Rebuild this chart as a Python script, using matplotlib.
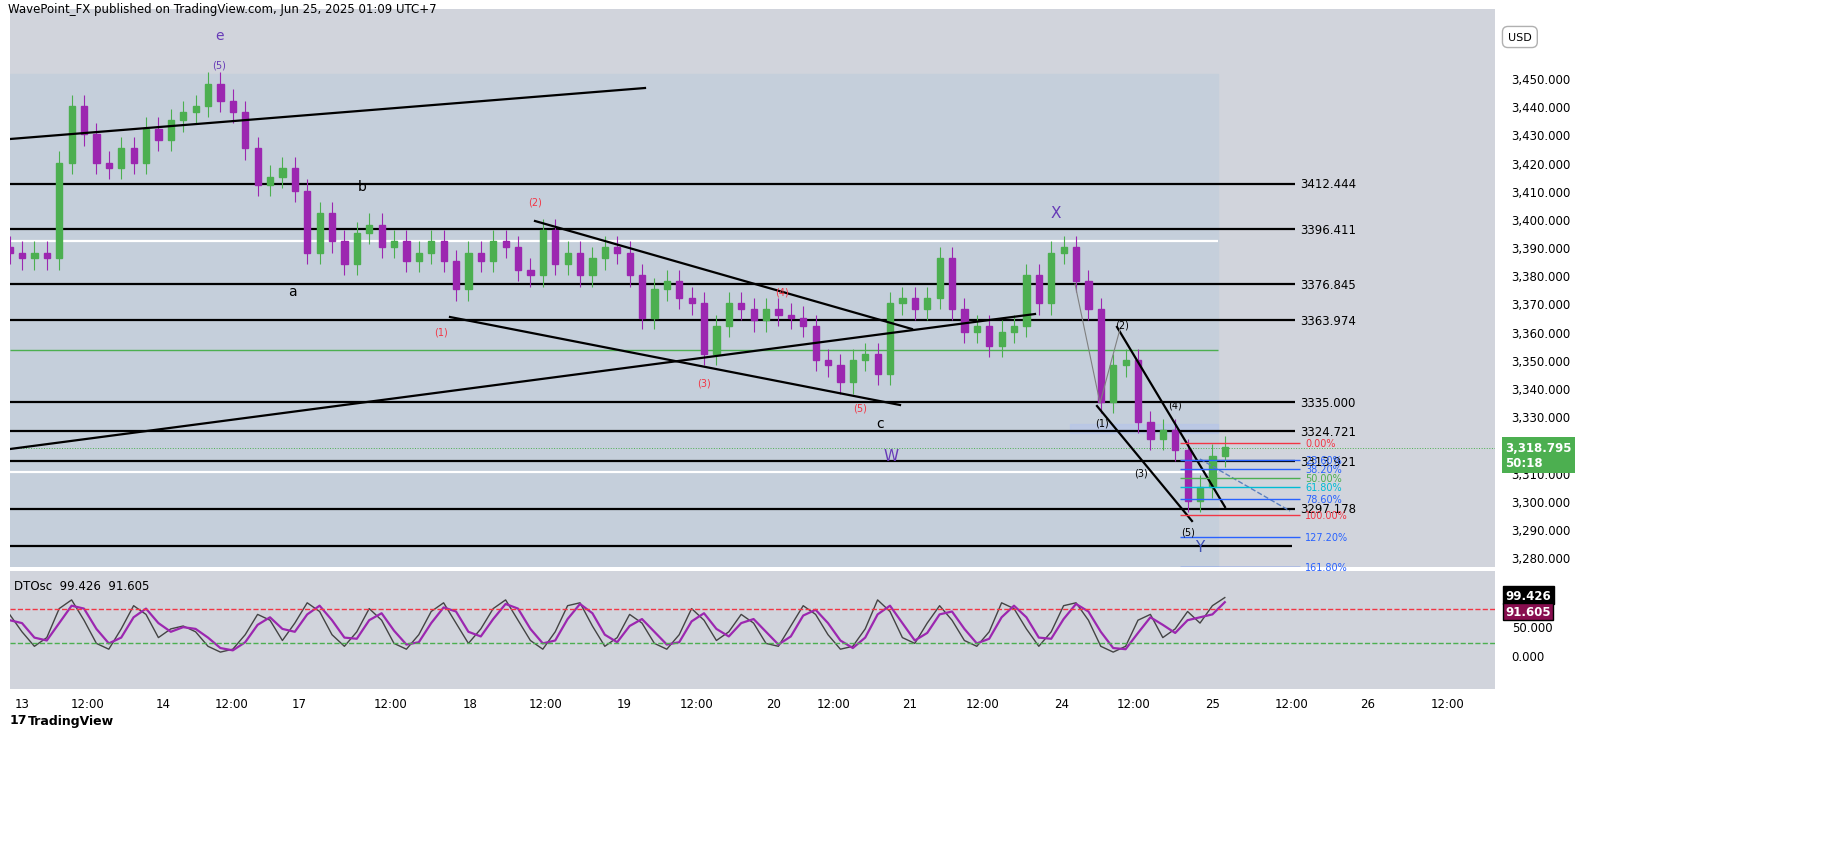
import numpy as np
import matplotlib.pyplot as plt
from matplotlib.patches import Rectangle

# ---- data ----
closes = [3388, 3386, 3388, 3386, 3420, 3440, 3430, 3420, 3418, 3425,
          3420, 3432, 3428, 3435, 3438, 3440, 3448, 3442, 3438, 3425,
          3412, 3415, 3418, 3410, 3388, 3402, 3392, 3384, 3395, 3398,
          3390, 3392, 3385, 3388, 3392, 3385, 3375, 3388, 3385, 3392,
          3390, 3382, 3380, 3396, 3384, 3388, 3380, 3386, 3390, 3388,
          3380, 3365, 3375, 3378, 3372, 3370, 3352, 3362, 3370, 3368,
          3364, 3368, 3366, 3365, 3362, 3350, 3348, 3342, 3350, 3352,
          3345, 3370, 3372, 3368, 3372, 3386, 3368, 3360, 3362, 3355,
          3360, 3362, 3380, 3370, 3388, 3390, 3378, 3368, 3335, 3348,
          3350, 3328, 3322, 3325, 3318, 3300, 3305, 3316, 3319]
osc_k = [70, 40, 15, 30, 80, 95, 60, 20, 10, 45, 85, 70, 30, 45, 50, 40, 15, 5, 10, 35,
         70, 60, 25, 55, 90, 75, 35, 15, 40, 80, 60, 20, 10, 35, 75, 90, 55, 20, 45, 80,
         95, 60, 25, 10, 40, 85, 90, 50, 15, 30, 70, 55, 20, 10, 35, 80, 60, 25, 40, 70,
         55, 20, 15, 50, 85, 70, 35, 10, 15, 45, 95, 75, 30, 20, 55, 85, 60, 25, 15, 40,
         90, 80, 45, 15, 40, 85, 90, 60, 15, 5, 15, 60, 70, 30, 45, 75, 55, 85, 99]
osc_d = [60, 55, 30, 25, 55, 85, 80, 45, 20, 30, 65, 80, 55, 40, 48, 45, 30, 12, 8, 22,
         52, 65, 45, 40, 70, 85, 60, 30, 28, 60, 72, 42, 18, 22, 55, 82, 75, 40, 32, 62,
         88, 80, 45, 20, 25, 62, 88, 72, 35, 22, 50, 62, 40, 18, 22, 58, 72, 45, 32, 55,
         62, 40, 18, 32, 68, 78, 55, 25, 12, 30, 70, 85, 55, 25, 38, 70, 75, 45, 20, 28,
         65, 85, 65, 30, 28, 62, 88, 75, 40, 12, 10, 38, 65, 52, 38, 60, 65, 70, 91]
levels = [3412.444, 3396.411, 3376.845, 3363.974, 3335.000, 3324.721, 3313.921, 3297.178]
fib_names = ["0.00%", "23.60%", "38.20%", "50.00%", "61.80%", "78.60%", "100.00%", "127.20%", "161.80%"]
fib_prices = [3320.5, 3314.5, 3311.2, 3308.0, 3304.8, 3300.5, 3294.8, 3287.0, 3276.5]
fib_colors = ["#f23645", "#2962ff", "#2962ff", "#4caf50", "#00bcd4", "#2962ff", "#f23645", "#2962ff", "#2962ff"]
tick_px = [22, 88, 163, 232, 299, 391, 470, 546, 624, 697, 774, 834, 910, 983, 1062, 1134, 1213, 1292, 1368, 1448]
tick_labels = ["13", "12:00", "14", "12:00", "17", "12:00", "18", "12:00", "19", "12:00",
               "20", "12:00", "21", "12:00", "24", "12:00", "25", "12:00", "26", "12:00"]

W, H = 1835, 862
BG = "#d1d4dc"
UP, DN = "#4caf50", "#9c27b0"

def ix(px):  # pixel x -> bar index
    return (px - 22) / 12.4

def pr(py):  # pixel y -> price
    return 3450 - (py - 79) / 2.818

fig = plt.figure(figsize=(W / 100, H / 100), dpi=100)
fig.patch.set_facecolor("white")
ax = fig.add_axes([10 / W, 1 - 568 / H, 1485 / W, 558 / H])
ox = fig.add_axes([10 / W, 1 - 690 / H, 1485 / W, 118 / H], sharex=ax)
for a in (ax, ox):
    a.set_facecolor(BG)
    for s in a.spines.values():
        s.set_visible(False)
ax.set_xlim(ix(10), ix(1495))
ax.set_ylim(pr(568), pr(10))
ox.set_ylim(-58.6, 144.8)

# shaded range box
ax.add_patch(Rectangle((ix(10), pr(568)), ix(1218) - ix(10), pr(75) - pr(568),
                       color="#c5cfdb", zorder=0))

# candles
x = np.arange(len(closes)) - 1
opens = [closes[0] + 2] + closes[:-1]
for xi, o, c in zip(x, opens, closes):
    col = UP if c >= o else DN
    ax.vlines(xi, min(o, c) - 4, max(o, c) + 4, color=col, lw=0.8, zorder=3)
    ax.add_patch(Rectangle((xi - 0.25, min(o, c)), 0.5, max(abs(c - o), 0.6),
                           color=col, zorder=3))

# horizontal levels
for lv in levels:
    ax.hlines(lv, ix(10), ix(1295), color="black", lw=1.6, zorder=2)
    ax.text(ix(1300), lv, f"{lv:.3f}", fontsize=8.5, va="center", zorder=5)
ax.hlines(3284, ix(10), ix(1292), color="black", lw=1.6)
ax.hlines([pr(242), pr(473)], ix(10), ix(1218), color="white", lw=1.6, zorder=2)
ax.hlines(pr(351), ix(10), ix(1218), color="#4caf50", lw=1, zorder=2)

# trend lines
for (x1, y1, x2, y2) in [(10, 140, 645, 89), (10, 450, 1035, 315), (535, 222, 912, 330),
                         (450, 318, 900, 406), (1117, 328, 1225, 508), (1097, 407, 1192, 522)]:
    ax.plot([ix(x1), ix(x2)], [pr(y1), pr(y2)], color="black", lw=1.6, zorder=4)
ax.plot([ix(1200), ix(1290)], [pr(460), pr(512)], color="#5b7fbf", lw=1, ls="--", zorder=4)
ax.plot([ix(1075), ix(1100), ix(1120)], [pr(285), pr(404), pr(330)], color="#808080", lw=0.8, zorder=4)

# fib
ax.add_patch(Rectangle((ix(1070), pr(434)), ix(1218) - ix(1070), pr(425) - pr(434),
                       color="#b7c6e8", alpha=0.7, zorder=1))
for n, p, c in zip(fib_names, fib_prices, fib_colors):
    ax.hlines(p, ix(1180), ix(1300), color=c, lw=1, zorder=4)
    ax.text(ix(1305), p, n, color=c, fontsize=7, va="center", zorder=5)

# wave labels
for t, px, py, c, fs in [("e", 219, 36, "#673ab7", 10), ("(5)", 219, 66, "#673ab7", 7),
                         ("b", 362, 187, "black", 10), ("a", 292, 292, "black", 10),
                         ("(1)", 441, 332, "#f23645", 7), ("(2)", 535, 203, "#f23645", 7),
                         ("(3)", 704, 384, "#f23645", 7), ("(4)", 782, 293, "#f23645", 7),
                         ("(5)", 860, 408, "#f23645", 7), ("c", 880, 424, "black", 10),
                         ("X", 1056, 214, "#673ab7", 11), ("W", 891, 457, "#673ab7", 11),
                         ("(2)", 1122, 326, "black", 7), ("(1)", 1102, 424, "black", 7),
                         ("(3)", 1141, 474, "black", 7), ("(4)", 1175, 405, "black", 7),
                         ("(5)", 1188, 532, "black", 7), ("Y", 1200, 548, "#3f51b5", 11)]:
    ax.text(ix(px), pr(py), t, color=c, fontsize=fs, ha="center", va="center", zorder=6)

# price axis
ax.yaxis.tick_right()
ax.set_yticks(range(3280, 3451, 10))
ax.set_yticklabels([f"{v:,}.000" for v in range(3280, 3451, 10)], fontsize=8.5)
ax.tick_params(axis="y", length=0, pad=12)
ax.tick_params(axis="x", length=0, labelbottom=False)
ax.axhline(3318.795, color="#4caf50", lw=0.7, ls=":")
ax.text(1.007, pr(456), "3,318.795\n50:18", transform=ax.get_yaxis_transform(),
        fontsize=8.5, color="white", va="center", fontweight="bold",
        bbox=dict(boxstyle="square,pad=0.3", fc="#4caf50", ec="none"))
fig.text(1508 / W, 1 - 38 / H, "USD", fontsize=8, va="center",
         bbox=dict(boxstyle="round,pad=0.5", fc="white", ec="#b0b0b0"))

# oscillator
ox.plot(x, osc_k, color="#444444", lw=1)
ox.plot(x, osc_d, color="#9c27b0", lw=1.6)
ox.axhline(80, color="#f23645", lw=1, ls="--")
ox.axhline(20, color="#4caf50", lw=1, ls="--")
ox.yaxis.tick_right()
ox.set_yticks([0, 50])
ox.set_yticklabels(["0.000", "50.000"], fontsize=8.5)
ox.tick_params(axis="y", length=0, pad=12)
ox.text(1.007, 103, "99.426", transform=ox.get_yaxis_transform(), fontsize=8.5,
        va="center", color="white", fontweight="bold", bbox=dict(boxstyle="square,pad=0.2", fc="black"))
ox.text(1.007, 75, "91.605", transform=ox.get_yaxis_transform(), fontsize=8.5,
        va="center", color="white", fontweight="bold", bbox=dict(boxstyle="square,pad=0.2", fc="#880e4f"))
ox.text(0.003, 0.93, "DTOsc  99.426  91.605", transform=ox.transAxes, fontsize=8.5, va="top")
ox.set_xticks([ix(p) for p in tick_px])
ox.set_xticklabels(tick_labels, fontsize=8.5)
ox.tick_params(axis="x", length=0, pad=6)

fig.text(8 / W, 1 - 10 / H, "WavePoint_FX published on TradingView.com, Jun 25, 2025 01:09 UTC+7",
         fontsize=8.5, va="center")
fig.text(28 / W, 1 - 721 / H, "TradingView", fontsize=9, va="center", fontweight="bold")
fig.text(10 / W, 1 - 721 / H, "17", fontsize=9, va="center", fontweight="bold")

fig.savefig("out.png", dpi=100, facecolor=fig.get_facecolor())
